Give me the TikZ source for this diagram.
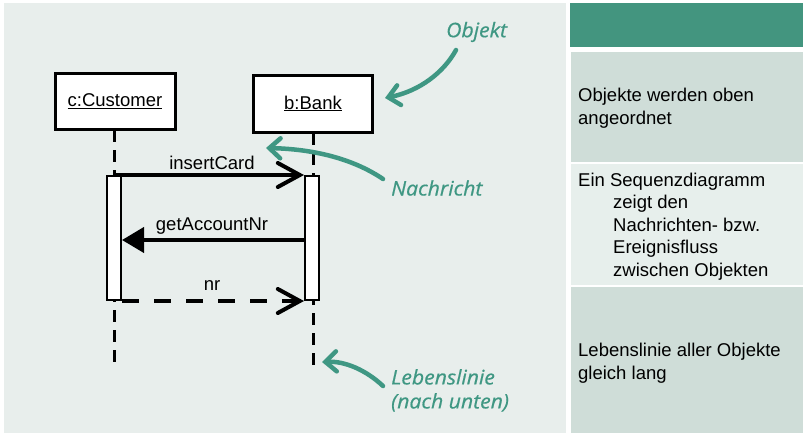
\documentclass[tikz,border=0pt]{standalone}
\usepackage{fontspec}
\setmainfont{Liberation Sans}
\newfontfamily\annfont{Open Sans}[FakeStretch=1.06, FakeBold=0.6]
\usetikzlibrary{arrows.meta}
\definecolor{leftbg}{HTML}{E8EEEC}
\definecolor{rowdark}{HTML}{CFDDD8}
\definecolor{rowlight}{HTML}{E7EFEC}
\definecolor{headc}{HTML}{43957F}
\definecolor{annc}{HTML}{3F9783}
\tikzset{
  objbox/.style={draw=black, line width=3pt, fill=white, inner sep=0pt,
    font=\fontsize{18.5}{22}\selectfont},
  actbox/.style={draw=black, line width=2pt, fill=white, inner sep=0pt,
    minimum width=14pt},
  lifeline/.style={draw=black, line width=3pt, dash pattern=on 12pt off 8pt},
  msgopen/.style={line width=4pt, -{Straight Barb[length=22pt,width=24pt,line cap=round]}},
  msgfilled/.style={line width=4pt, -{Triangle[length=22pt,width=25pt]}},
  msgreply/.style={msgopen, dash pattern=on 17pt off 15pt},
  msglabel/.style={inner sep=0pt, font=\fontsize{18.5}{22}\selectfont},
  anntext/.style={inner sep=0pt, text=annc, font=\annfont\itshape\fontsize{20}{24}\selectfont, align=left},
  annarrow/.style={draw=annc, line width=4.5pt, line cap=round,
    -{Straight Barb[length=11pt,width=20pt,line cap=round]}},
  paneltext/.style={inner sep=0pt, anchor=west, align=left,
    font=\fontsize{18.5}{22.5}\selectfont}
}
\begin{document}
\begin{tikzpicture}[x=1pt,y=-1pt]
\useasboundingbox (0,0) rectangle (806,434);
\fill[white] (0,0) rectangle (806,434);
% panels
\fill[leftbg] (4,3) rectangle (566,433);
\fill[headc] (570,3) rectangle (803,47);
\fill[rowdark] (571,52) rectangle (803,162);
\fill[rowlight] (571,164) rectangle (803,285);
\fill[rowdark] (571,287) rectangle (803,433);

% objects
\node[objbox, minimum width=120pt, minimum height=56pt] (cust) at (115,101) {\underline{c:Customer}};
\node[objbox, minimum width=119pt, minimum height=57pt] (bank) at (313,103.5) {\underline{b:Bank}};

% lifeline ends
\coordinate (custtop) at (114,130);
\coordinate (custend) at (114,362);
\coordinate (banktop) at (313,133);
\coordinate (bankend) at (313,367);
\draw[lifeline] (custtop) -- (custend);
\draw[lifeline] (banktop) -- (bankend);

% activations
\node[actbox, minimum height=124pt] (ca) at (114,238) {};
\node[actbox, minimum height=124pt] (ba) at (312,238) {};

% messages
\draw[msgopen] (ca.north) -- (ba.north west);
\draw[msgfilled] ([yshift=-2pt]ba.west) -- ([yshift=-2pt]ca.east);
\draw[msgreply] (ca.south east) -- (ba.south west);
\node[msglabel] (l1) at (212,163) {insertCard};
\node[msglabel] (l2) at (212,226) {getAccountNr};
\node[msglabel] (l3) at (212,286) {nr};

% annotations
\node[anntext, anchor=west] (aobj) at (446,32) {Objekt};
\node[anntext, anchor=west] (anach) at (391,188) {Nachricht};
\node[anntext, anchor=north west] (aleb) at (391,369) {Lebenslinie\\(nach unten)};
\coordinate (objstart) at (456,50);
\coordinate (objtip) at (385,98);
\coordinate (nachstart) at (383,179);
\coordinate (nachtip) at (266,148);
\coordinate (lebstart) at (383,386);
\coordinate (lebtip) at (322,362);
\draw[annarrow] (objstart) .. controls (444,72) and (420,91) .. (objtip);
\draw[annarrow] (nachstart) .. controls (352,158) and (312,149) .. (nachtip);
\draw[annarrow] (lebstart) .. controls (366,370) and (345,361) .. (lebtip);

% right panel texts
\node[paneltext] (t1) at (578,108) {Objekte werden oben\\angeordnet};
\node[paneltext] (t2) at (578,226.5) {Ein Sequenzdiagramm\\\hspace*{35pt}zeigt den\\\hspace*{35pt}Nachrichten- bzw.\\\hspace*{35pt}Ereignisfluss\\\hspace*{35pt}zwischen Objekten};
\node[paneltext] (t3) at (578,363) {Lebenslinie aller Objekte\\gleich lang};
\end{tikzpicture}
\end{document}
